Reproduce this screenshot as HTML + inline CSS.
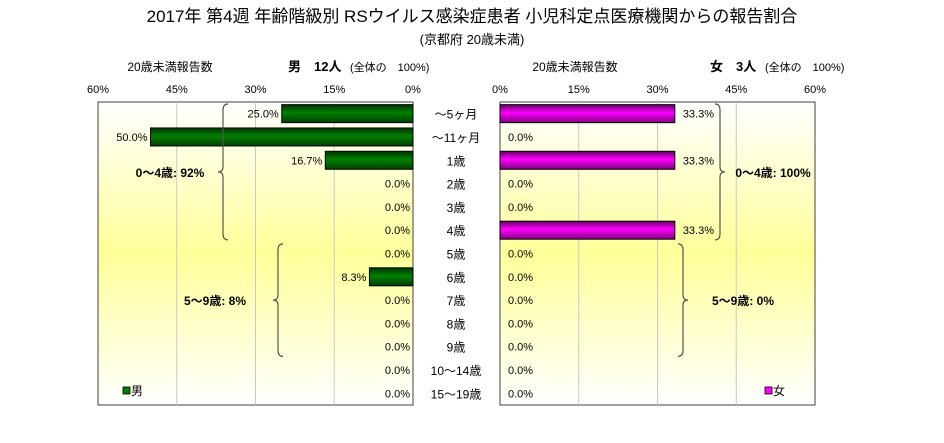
<!DOCTYPE html>
<html><head><meta charset="utf-8">
<style>
html,body{margin:0;padding:0;background:#fff;}
svg{display:block;font-family:"Liberation Sans","Noto Sans CJK JP",sans-serif;}
</style></head>
<body>
<svg id="chart" width="944" height="443" viewBox="0 0 944 443" xmlns="http://www.w3.org/2000/svg">
<defs>
<linearGradient id="bg" x1="0" y1="0" x2="0" y2="1">
<stop offset="0" stop-color="#ffffff"/><stop offset="0.5" stop-color="#ffff99"/><stop offset="1" stop-color="#ffffff"/>
</linearGradient>
<linearGradient id="gm" x1="0" y1="0" x2="0" y2="1">
<stop offset="0" stop-color="#003300"/><stop offset="0.45" stop-color="#008000"/><stop offset="1" stop-color="#004000"/>
</linearGradient>
<linearGradient id="gf" x1="0" y1="0" x2="0" y2="1">
<stop offset="0" stop-color="#660066"/><stop offset="0.45" stop-color="#ff00ff"/><stop offset="1" stop-color="#800080"/>
</linearGradient>
</defs>
<text x="472" y="22" text-anchor="middle" font-size="17">2017年 第4週 年齢階級別 RSウイルス感染症患者 小児科定点医療機関からの報告割合</text>
<text x="472" y="44" text-anchor="middle" font-size="13">(京都府 20歳未満)</text>
<text x="170" y="71" text-anchor="middle" font-size="12">20歳未満報告数</text>
<text x="288" y="71" font-size="13" font-weight="bold">男　12人</text>
<text x="350" y="71" font-size="11">(全体の　100%)</text>
<text x="575" y="71" text-anchor="middle" font-size="12">20歳未満報告数</text>
<text x="710" y="71" font-size="13" font-weight="bold">女　3人</text>
<text x="765" y="71" font-size="11">(全体の　100%)</text>
<rect x="98" y="102" width="315" height="303" fill="url(#bg)" stroke="#404040" stroke-width="1"/>
<rect x="500" y="102" width="315" height="303" fill="url(#bg)" stroke="#404040" stroke-width="1"/>
<g id="grid"></g>
<g id="marks"></g>
<rect x="123" y="387" width="7" height="7" fill="#008000" stroke="#000" stroke-width="0.8"/>
<text x="131" y="395" font-size="12">男</text>
<rect x="765" y="387" width="7" height="7" fill="#ff00ff" stroke="#000" stroke-width="0.8"/>
<text x="773" y="395" font-size="12">女</text>
</svg>
<script>
const categories = ["～5ヶ月","～11ヶ月","1歳","2歳","3歳","4歳","5歳","6歳","7歳","8歳","9歳","10～14歳","15～19歳"];
const maleVals = [25.0,50.0,16.7,0,0,0,0,8.3,0,0,0,0,0];
const femaleVals = [33.3,0,33.3,0,0,33.3,0,0,0,0,0,0,0];
const tickVals = [0,15,30,45,60];
const tickLabels = ["0%","15%","30%","45%","60%"];
const maleGroups = [{from:0,to:5,label:"0～4歳: 92%"},{from:6,to:10,label:"5～9歳: 8%"}];
const femaleGroups = [{from:0,to:5,label:"0～4歳: 100%"},{from:6,to:10,label:"5～9歳: 0%"}];

const NS="http://www.w3.org/2000/svg";
const svg=document.getElementById('chart');
const grid=document.getElementById('grid');
const marks=document.getElementById('marks');
const top0=102, rowH=303/13, maxV=60, W=315;
function xMale(v){return 413 - v/maxV*W;}
function xFem(v){return 500 + v/maxV*W;}
function yRow(i){return top0 + rowH*(i+0.5);}
function mk(tag,attrs,parent){const e=document.createElementNS(NS,tag);for(const k in attrs)e.setAttribute(k,attrs[k]);(parent||svg).appendChild(e);return e;}

tickVals.forEach((v,i)=>{
  [[xMale,'male'],[xFem,'female']].forEach(([f,side])=>{
    const x=f(v);
    if(v>0&&v<60){const l=mk('line',{x1:x,y1:102,x2:x,y2:405,stroke:'#c8c8c8','stroke-width':1},grid);
      
      }
    const t=mk('text',{x:x,y:93,'text-anchor':'middle','font-size':11},grid);
    
    
    t.textContent=tickLabels[i];
  });
});

categories.forEach((c,i)=>{
  const y=yRow(i);
  const t=mk('text',{x:456,y:y+5,'text-anchor':'middle','font-size':12},marks);
  
  
  t.textContent=c;
  const mv=maleVals[i];
  if(mv>0){const b=mk('rect',{x:xMale(mv),y:y-9,width:xMale(0)-xMale(mv),height:18,fill:'url(#gm)',stroke:'#000','stroke-width':1},marks);
    
    }
  const ml=mk('text',{x:xMale(mv)-3,y:y+4,'text-anchor':'end','font-size':11},marks);
  
  
  ml.textContent=mv.toFixed(1)+'%';
  const fv=femaleVals[i];
  if(fv>0){const b=mk('rect',{x:xFem(0),y:y-9,width:xFem(fv)-xFem(0),height:18,fill:'url(#gf)',stroke:'#000','stroke-width':1},marks);
    
    }
  const fl=mk('text',{x:xFem(fv)+8,y:y+4,'font-size':11},marks);
  
  
  fl.textContent=fv.toFixed(1)+'%';
});

function brace(x,y1,y2,dir){
  const m=(y1+y2)/2, d=dir*5;
  return `M${x+d} ${y1} Q${x} ${y1} ${x} ${y1+6} L${x} ${m-5} Q${x} ${m} ${x-d} ${m} Q${x} ${m} ${x} ${m+5} L${x} ${y2-6} Q${x} ${y2} ${x+d} ${y2}`;
}
// male braces (opening to the right), female braces (opening to the left)
const mBraceX=[223,278], mLabelX=[170,215];
maleGroups.forEach((g,k)=>{
  const y1=top0+rowH*g.from+2, y2=top0+rowH*(g.to+1)-2;
  const p=mk('path',{d:brace(mBraceX[k],y1,y2,1),fill:'none',stroke:'#555','stroke-width':1.2},marks);
  
  
  const t=mk('text',{x:mLabelX[k],y:(y1+y2)/2+5,'text-anchor':'middle','font-size':12,'font-weight':'bold'},marks);
  
  
  t.textContent=g.label;
});
const fBraceX=[720,683], fLabelX=[773,743];
femaleGroups.forEach((g,k)=>{
  const y1=top0+rowH*g.from+2, y2=top0+rowH*(g.to+1)-2;
  const p=mk('path',{d:brace(fBraceX[k],y1,y2,-1),fill:'none',stroke:'#555','stroke-width':1.2},marks);
  
  
  const t=mk('text',{x:fLabelX[k],y:(y1+y2)/2+5,'text-anchor':'middle','font-size':12,'font-weight':'bold'},marks);
  
  
  t.textContent=g.label;
});
</script>
</body></html>
